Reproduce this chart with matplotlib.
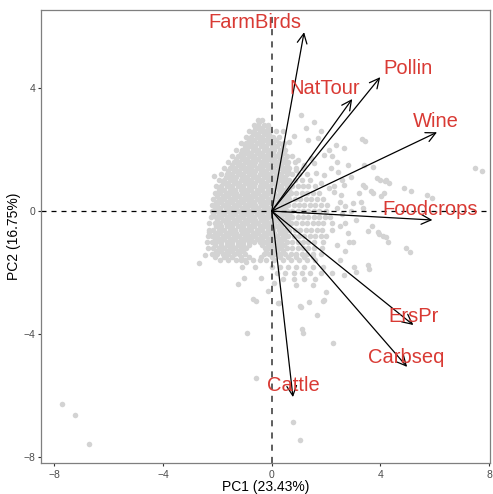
import matplotlib
matplotlib.use("Agg")
import matplotlib.pyplot as plt

plt.rcParams['font.family'] = ['Liberation Sans', 'DejaVu Sans']

# Loadings (arrow tips) and label positions
variables = ['FarmBirds', 'Pollin', 'NatTour', 'Wine', 'Foodcrops',
             'ErsPr', 'Carbseq', 'Cattle']
load_pc1 = [1.19, 3.99, 2.96, 6.08, 5.91, 5.21, 4.98, 0.78]
load_pc2 = [5.81, 4.35, 3.64, 2.56, -0.29, -3.70, -5.06, -6.04]
label_pc1 = [-0.61, 5.02, 1.96, 6.05, 5.83, 5.20, 4.94, 0.78]
label_pc2 = [6.14, 4.64, 3.99, 2.92, 0.06, -3.41, -4.74, -5.68]

# Scores: dense core given row by row (PC2 value, PC1 values)
core_rows = [
    (2.95, [-0.5, -0.35]),
    (2.8, [-0.65, -0.5, -0.3, -0.15]),
    (2.7, [-0.55, -0.35, -0.15]),
    (2.6, [-0.85, -0.65, -0.45, -0.25, -0.05, 0.15]),
    (2.5, [-0.7, -0.5, -0.3, -0.1]),
    (2.4, [-0.95, -0.75, -0.55, -0.35, -0.15, 0.05, 0.25]),
    (2.3, [-0.85, -0.65, -0.45, -0.25, -0.05, 0.15]),
    (2.2, [-1.15, -0.95, -0.75, -0.55, -0.35, -0.15, 0.05, 0.25, 0.45]),
    (2.1, [-1.0, -0.8, -0.6, -0.4, -0.2, 0.0, 0.2, 0.4]),
    (2.0, [-1.3, -1.1, -0.9, -0.7, -0.5, -0.3, -0.1, 0.1, 0.3, 0.5]),
    (1.9, [-1.15, -0.95, -0.75, -0.55, -0.35, -0.15, 0.05, 0.25, 0.45]),
    (1.8, [-1.45, -1.25, -1.05, -0.85, -0.65, -0.45, -0.25, -0.05, 0.15,
           0.35, 0.55, 0.75]),
    (1.7, [-1.3, -1.1, -0.9, -0.7, -0.5, -0.3, -0.1, 0.1, 0.3, 0.5]),
    (1.6, [-1.6, -1.4, -1.2, -1.0, -0.8, -0.6, -0.4, -0.2, 0.0, 0.2, 0.4,
           0.6, 0.85]),
    (1.5, [-1.45, -1.25, -1.05, -0.85, -0.65, -0.45, -0.25, -0.05, 0.15,
           0.35, 0.55]),
    (1.4, [-1.75, -1.55, -1.35, -1.15, -0.95, -0.75, -0.55, -0.35, -0.15,
           0.05, 0.25, 0.45, 0.65, 0.9, 1.15]),
    (1.3, [-1.6, -1.4, -1.2, -1.0, -0.8, -0.6, -0.4, -0.2, 0.0, 0.2, 0.4,
           0.6]),
    (1.2, [-1.85, -1.65, -1.45, -1.25, -1.05, -0.85, -0.65, -0.45, -0.25,
           -0.05, 0.15, 0.35, 0.55, 0.75, 1.0, 1.3]),
    (1.1, [-1.7, -1.5, -1.3, -1.1, -0.9, -0.7, -0.5, -0.3, -0.1, 0.1, 0.3,
           0.5]),
    (1.0, [-1.95, -1.75, -1.55, -1.35, -1.15, -0.95, -0.75, -0.55, -0.35,
           -0.15, 0.05, 0.25, 0.45, 0.65, 0.85, 1.1, 1.4]),
    (0.9, [-1.8, -1.6, -1.4, -1.2, -1.0, -0.8, -0.6, -0.4, -0.2, 0.0, 0.2,
           0.4, 0.6]),
    (0.8, [-2.05, -1.85, -1.65, -1.45, -1.25, -1.05, -0.85, -0.65, -0.45,
           -0.25, -0.05, 0.15, 0.35, 0.55, 0.75, 0.95, 1.15, 1.35, 1.6]),
    (0.7, [-1.95, -1.75, -1.55, -1.35, -1.15, -0.95, -0.75, -0.55, -0.35,
           -0.15, 0.05, 0.25, 0.45, 0.65]),
    (0.6, [-2.1, -1.9, -1.7, -1.5, -1.3, -1.1, -0.9, -0.7, -0.5, -0.3, -0.1,
           0.1, 0.3, 0.5, 0.7, 0.9, 1.1, 1.3, 1.5, 1.75]),
    (0.5, [-2.0, -1.8, -1.6, -1.4, -1.2, -1.0, -0.8, -0.6, -0.4, -0.2, 0.0,
           0.2, 0.4, 0.6]),
    (0.4, [-2.15, -1.95, -1.75, -1.55, -1.35, -1.15, -0.95, -0.75, -0.55,
           -0.35, -0.15, 0.05, 0.25, 0.45, 0.65, 0.85, 1.05, 1.25, 1.45,
           1.65, 1.9]),
    (0.3, [-2.05, -1.85, -1.65, -1.45, -1.25, -1.05, -0.85, -0.65, -0.45,
           -0.25, -0.05, 0.15, 0.35, 0.55]),
    (0.2, [-2.2, -2.0, -1.8, -1.6, -1.4, -1.2, -1.0, -0.8, -0.6, -0.4, -0.2,
           0.0, 0.2, 0.4, 0.6, 0.8, 1.0, 1.2, 1.4, 1.6, 1.8, 2.05]),
    (0.1, [-2.1, -1.9, -1.7, -1.5, -1.3, -1.1, -0.9, -0.7, -0.5, -0.3, -0.1,
           0.1, 0.3, 0.5]),
    (0.0, [-2.2, -2.05, -1.85, -1.65, -1.45, -1.25, -1.05, -0.85, -0.65,
           -0.45, -0.25, -0.05, 0.15, 0.35, 0.55, 0.75, 0.95, 1.15, 1.35,
           1.55, 1.75, 2.0]),
    (-0.1, [-2.15, -1.95, -1.75, -1.55, -1.35, -1.15, -0.95, -0.75, -0.55,
            -0.35, -0.15, 0.05, 0.25, 0.45, 0.65]),
    (-0.2, [-2.25, -2.05, -1.85, -1.65, -1.45, -1.25, -1.05, -0.85, -0.65,
            -0.45, -0.25, -0.05, 0.15, 0.35, 0.55, 0.75, 0.95, 1.15, 1.35,
            1.55, 1.75, 1.95, 2.15]),
    (-0.3, [-2.0, -1.8, -1.6, -1.4, -1.2, -1.0, -0.8, -0.6, -0.4, -0.2, 0.0,
            0.2, 0.4, 0.6]),
    (-0.4, [-2.3, -2.1, -1.9, -1.7, -1.5, -1.3, -1.1, -0.9, -0.7, -0.5,
            -0.3, -0.1, 0.1, 0.3, 0.5, 0.7, 0.9, 1.1, 1.3, 1.5, 1.7, 1.9,
            2.2]),
    (-0.5, [-2.05, -1.85, -1.65, -1.45, -1.25, -1.05, -0.85, -0.65, -0.45,
            -0.25, -0.05, 0.15, 0.35, 0.55]),
    (-0.6, [-2.3, -2.15, -1.95, -1.75, -1.55, -1.35, -1.15, -0.95, -0.75,
            -0.55, -0.35, -0.15, 0.05, 0.25, 0.45, 0.65, 0.85, 1.05, 1.25,
            1.45, 1.65, 1.85, 2.2]),
    (-0.7, [-2.1, -1.9, -1.7, -1.5, -1.3, -1.1, -0.9, -0.7, -0.5, -0.3,
            -0.1, 0.1, 0.3, 0.5]),
    (-0.8, [-2.35, -2.2, -2.0, -1.8, -1.6, -1.4, -1.2, -1.0, -0.8, -0.6,
            -0.4, -0.2, 0.0, 0.2, 0.4, 0.6, 0.8, 1.0, 1.2, 1.4, 1.6, 1.8,
            2.0]),
    (-0.9, [-2.1, -1.95, -1.75, -1.55, -1.35, -1.15, -0.95, -0.75, -0.55,
            -0.35, -0.15, 0.05, 0.25, 0.45]),
    (-1.0, [-2.4, -2.2, -2.05, -1.85, -1.65, -1.45, -1.25, -1.05, -0.85,
            -0.65, -0.45, -0.25, -0.05, 0.15, 0.35, 0.55, 0.75, 0.95, 1.15,
            1.35, 1.55, 1.9]),
    (-1.1, [-2.1, -1.85, -1.65, -1.45, -1.25, -1.05, -0.85, -0.35, -0.15,
            0.05, 0.25, 0.45]),
    (-1.2, [-2.35, -2.15, -1.95, -1.75, -1.55, -1.35, -1.15, -0.95, -0.25,
            -0.05, 0.15, 0.35, 0.55, 0.75, 0.95, 1.15, 1.35, 1.55, 1.85]),
    (-1.3, [-2.05, -1.85, -1.65, -1.45, -1.25, -1.05, -0.2, 0.0, 0.2, 0.4]),
    (-1.4, [-2.2, -2.0, -1.8, -1.6, -1.4, -1.2, -1.0, -0.3, -0.1, 0.1, 0.3,
            0.5, 0.7, 0.9, 1.1, 1.3, 1.5, 1.8]),
    (-1.5, [-2.1, -1.75, -1.45, -1.15, -0.85, -0.4, 0.0, 0.3, 0.6, 0.9,
            1.2, 1.5]),
    (-1.6, [-1.9, -1.6, -1.3, -1.0, -0.7, -0.2, 0.1, 0.4, 0.7, 1.0, 1.3,
            1.6]),
    (-1.8, [-1.1, -0.6, 0.0, 0.3, 0.6, 0.9, 1.2, 1.5, 1.9]),
    (-2.0, [0.2, 0.5, 0.8, 1.1, 1.4, 1.8, 2.2]),
    (-2.2, [0.4, 0.8, 1.2, 1.6]),
    (-2.4, [0.9, 1.5]),
]

# Scores: scattered points outside the core
outer_pc1 = [1.07, 1.55, 1.25, 1.81, 0.81, 3.32, 2.36, 2.66, 1.33, 1.70,
             2.10, 1.92, 2.80, 2.44, 2.18, 3.39, 3.73, 3.87, 4.17, 3.36,
             3.65, 4.02, 3.28, 2.99, 2.55, 2.29, 2.10, 1.81, 2.66, 1.92,
             1.62, 1.55, 1.44, 1.18, 0.96, 0.89, 7.49, 7.75, 4.87, 5.72,
             4.21, 3.43, 5.90, 5.13, 3.99, 4.32, 4.13, 3.73, 3.43, 5.09,
             4.28, 4.10, 3.95, 3.54, 3.58, 3.10, 3.36, 2.69, 4.94, 3.54,
             4.21, 3.91, 3.69, 3.03, 2.66, 1.99, 1.92, 1.37, 1.03, 2.84,
             1.07, 1.66, -0.92, 1.11, 1.14, 2.25, -0.59, 0.77, 1.03, 1.88,
             -0.59, 0.26, -2.66, -1.25, -1.03, -0.70, -0.41, -0.15, 0.07,
             0.22, -2.47, -2.32, -1.70, -1.40, -1.14, -0.96, -0.44, -2.14,
             -0.48, -0.63, 0.41, 0.63, -7.71, -7.23, -6.72,
             2.4, 2.6, 2.9, 2.5, 2.8, 3.1, 2.4, 2.7, 3.0, 2.5, 2.3, 2.6,
             2.9, 2.4, 2.2, 2.5, 3.2, 2.7]
outer_pc2 = [3.13, 2.90, 2.70, 2.61, 2.44, 2.35, 2.15, 2.05, 2.31, 2.38,
             1.99, 1.82, 1.50, 1.27, 1.40, 1.50, 1.43, 1.07, 0.98, 0.85,
             0.65, 0.49, 0.29, 0.26, 0.52, 0.62, 0.75, 0.91, 0.85, 1.17,
             1.24, 1.56, 1.73, 1.50, 1.66, 1.34, 1.40, 1.30, 0.75, 0.52,
             1.01, 2.28, 0.42, 0.65, 1.01, 0.91, 0.59, 0.59, 0.78, -1.34,
             -1.01, -0.81, -0.75, -0.65, -1.89, -1.99, 0.10, 0.16, -1.21,
             -1.76, -0.85, -0.68, -0.49, -1.82, -2.08, -2.64, -2.90, -2.96,
             -3.09, -1.01, -3.13, -3.36, -3.97, -3.84, -3.97, -4.27, -5.41,
             -6.84, -7.43, -2.93, -2.93, -3.00, -1.69, -2.38, -2.18, -2.87,
             -2.18, -2.61, -2.35, -3.00, -1.43, -0.68, -1.50, -1.40, -1.60,
             -1.66, -1.60, 1.14, 2.90, 2.74, 2.61, 2.25, -6.25, -6.61,
             -7.56,
             0.1, -0.1, 0.0, -0.5, -0.7, -0.3, -1.1, -1.3, -1.0, -1.6, 0.8,
             1.0, 1.1, 1.6, 1.8, 0.3, 0.6, -0.4]

score_pc1 = [x for y, xs in core_rows for x in xs] + outer_pc1
score_pc2 = [y for y, xs in core_rows for x in xs] + outer_pc2

red = '#D93A34'
fig, ax = plt.subplots(figsize=(4.93, 4.94), dpi=100)
fig.subplots_adjust(left=0.0838, right=0.9939, bottom=0.0622, top=0.9791)

ax.scatter(score_pc1, score_pc2, s=16, color='#D3D3D3', linewidths=0,
           zorder=1)
ax.axhline(0, color='black', linestyle=(0, (4, 4)), lw=0.9, zorder=2)
ax.axvline(0, color='#333333', linestyle=(0, (4, 4)), lw=1.1, zorder=2)

for name, x, y, lx, ly in zip(variables, load_pc1, load_pc2,
                              label_pc1, label_pc2):
    ax.annotate('', xy=(x, y), xytext=(0, 0),
                arrowprops=dict(arrowstyle='->,head_length=0.7,head_width=0.35',
                                color='black', lw=0.9,
                                shrinkA=0, shrinkB=0),
                zorder=3)
    ax.text(lx, ly, name, color=red, fontsize=14.5, ha='center',
            va='center', zorder=4)

ax.set_xlim(-8.48, 8.03)
ax.set_ylim(-8.19, 6.52)
ax.set_xticks([-8, -4, 0, 4, 8])
ax.set_yticks([-8, -4, 0, 4])
ax.set_xlabel('PC1 (23.43%)', fontsize=10, labelpad=0)
ax.set_ylabel('PC2 (16.75%)', fontsize=10, labelpad=1.5)
ax.tick_params(labelcolor='#4D4D4D', labelsize=7.5, length=2.5, width=0.8,
               pad=2, color='#333333')
for side in ax.spines.values():
    side.set_color('#7F7F7F')
    side.set_linewidth(0.9)

plt.savefig('out.png', dpi=100)
